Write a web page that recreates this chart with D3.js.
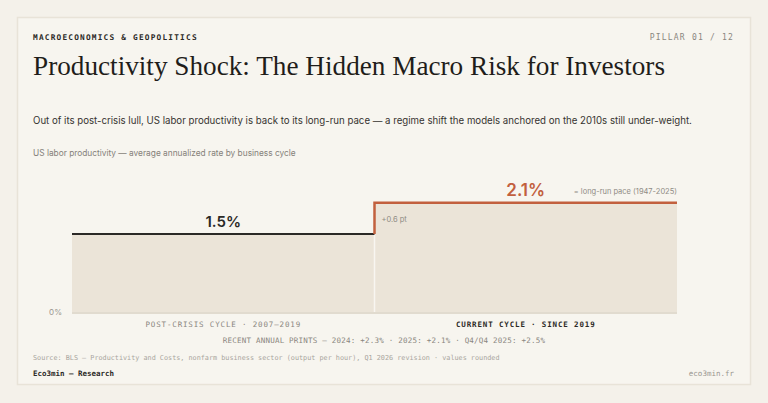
<!DOCTYPE html>
<html><head><meta charset="utf-8">
<script src="https://cdn.jsdelivr.net/npm/d3@7"></script>
<style>
html,body{margin:0;padding:0;background:#f4f1ea;}
svg{display:block;}
</style></head>
<body>
<script>
const categories = ["POST-CRISIS CYCLE · 2007–2019", "CURRENT CYCLE · SINCE 2019"];
const values = [1.5, 2.1];
const valueLabels = ["1.5%", "2.1%"];
const tickValues = [0];
const tickLabels = ["0%"];
const deltaLabel = "+0.6 pt";
const paceLabel = "= long-run pace (1947-2025)";
const recentPrints = "RECENT ANNUAL PRINTS — 2024: +2.3% · 2025: +2.1% · Q4/Q4 2025: +2.5%";

const W = 768, H = 403;
const mono = "'DejaVu Sans Mono', 'Liberation Mono', monospace";
const sans = "Inter, 'Noto Sans', sans-serif";
const serif = "'Liberation Serif', 'DejaVu Serif', serif";
const orange = "#c2603e", dark = "#2b2926", fill = "#ebe4d8";

const svg = d3.select("body").append("svg").attr("width", W).attr("height", H);
svg.append("rect").attr("width", W).attr("height", H).attr("fill", "#f4f1ea");
svg.append("rect").attr("x", 17.5).attr("y", 17.5).attr("width", 733).attr("height", 367)
  .attr("fill", "#f7f5ef").attr("stroke", "#e8e3d8").attr("stroke-width", 1.5);

function fit(sel, target) {
  const n = sel.node();
  const w = n.getComputedTextLength();
  const fs = parseFloat(sel.attr("font-size"));
  sel.attr("font-size", (fs * target / w).toFixed(2));
  return sel;
}

// header
fit(svg.append("text").attr("x", 33).attr("y", 40).attr("font-family", mono).attr("font-size", 8)
  .attr("font-weight", "bold").attr("letter-spacing", 1.2).attr("fill", "#2b2926")
  .text("MACROECONOMICS & GEOPOLITICS"), 164);
svg.append("text").attr("x", 734).attr("y", 40).attr("text-anchor", "end").attr("font-family", mono)
  .attr("font-size", 8).attr("letter-spacing", 1.2).attr("fill", "#8a8680").text("PILLAR 01 / 12");

svg.append("text").attr("x", 33).attr("y", 75).attr("font-family", serif).attr("font-size", 27)
  .attr("textLength", 632).attr("lengthAdjust", "spacingAndGlyphs")
  .attr("fill", "#1f1d1a").text("Productivity Shock: The Hidden Macro Risk for Investors");

fit(svg.append("text").attr("x", 33).attr("y", 124).attr("font-family", sans).attr("font-size", 11)
  .attr("fill", "#36332f")
  .text("Out of its post-crisis lull, US labor productivity is back to its long-run pace — a regime shift the models anchored on the 2010s still under-weight."), 660);

fit(svg.append("text").attr("x", 33).attr("y", 156).attr("font-family", sans).attr("font-size", 9)
  .attr("fill", "#85817a")
  .text("US labor productivity — average annualized rate by business cycle"), 263);

// chart
const x = d3.scaleBand().domain(categories).range([72, 677]).padding(0);
const y = d3.scaleLinear().domain([0, 3]).range([312, 156]);

const g = svg.append("g");
g.selectAll("rect.area").data(categories).join("rect").attr("class", "area")
  .attr("x", d => x(d)).attr("width", x.bandwidth())
  .attr("y", (d, i) => y(values[i])).attr("height", (d, i) => y(0) - y(values[i]))
  .attr("fill", fill);

// divider
g.append("line").attr("x1", x(categories[1])).attr("x2", x(categories[1]))
  .attr("y1", y(values[0])).attr("y2", y(0)).attr("stroke", "#f8f6f1").attr("stroke-width", 1.5);

// baseline axis
const axis = d3.axisLeft(y).tickValues(tickValues).tickSize(0).tickPadding(10)
  .tickFormat((d, i) => tickLabels[i]);
const ax = g.append("g").attr("transform", `translate(${x.range()[0]},0)`).call(axis);
ax.select(".domain").remove();
ax.selectAll("text").attr("font-family", sans).attr("font-size", 8).attr("fill", "#9a968f");
g.append("line").attr("x1", x.range()[0]).attr("x2", x.range()[1]).attr("y1", y(0) + 1).attr("y2", y(0) + 1)
  .attr("stroke", "#e1dbcf").attr("stroke-width", 2);

// lines
const line = d3.line().x(d => d[0]).y(d => y(d[1]));
const b = x(categories[1]);
g.append("path").attr("d", line([[x(categories[0]), values[0]], [b, values[0]]]))
  .attr("fill", "none").attr("stroke", dark).attr("stroke-width", 2);
g.append("path").attr("d", line([[b, values[0]], [b, values[1]], [x(categories[1]) + x.bandwidth(), values[1]]]))
  .attr("fill", "none").attr("stroke", orange).attr("stroke-width", 2.5).attr("stroke-linejoin", "miter");

// value labels
g.selectAll("text.val").data(categories).join("text").attr("class", "val")
  .attr("x", d => x(d) + x.bandwidth() / 2)
  .attr("y", (d, i) => y(values[i]) - 7)
  .attr("text-anchor", "middle").attr("font-family", sans).attr("font-weight", 600)
  .attr("font-size", (d, i) => i === 1 ? 17 : 15)
  .attr("fill", (d, i) => i === 1 ? orange : dark)
  .text((d, i) => valueLabels[i]);

g.append("text").attr("x", x.range()[1]).attr("y", y(values[1]) - 9).attr("text-anchor", "end")
  .attr("font-family", sans).attr("font-size", 7.5).attr("fill", "#8f8b84").text(paceLabel);
g.append("text").attr("x", b + 7).attr("y", y(values[0]) - 12)
  .attr("font-family", sans).attr("font-size", 7.5).attr("fill", "#8f8b84").text(deltaLabel);

// category labels
g.selectAll("text.cat").data(categories).join("text").attr("class", "cat")
  .attr("x", d => x(d) + x.bandwidth() / 2).attr("y", 327)
  .attr("text-anchor", "middle").attr("font-family", mono).attr("font-size", 7.5)
  .attr("letter-spacing", 0.85).attr("font-weight", (d, i) => i === 1 ? "bold" : "normal")
  .attr("fill", (d, i) => i === 1 ? "#2b2926" : "#8a8680").text(d => d);

fit(g.append("text").attr("x", 384).attr("y", 343).attr("text-anchor", "middle").attr("font-family", mono)
  .attr("font-size", 8).attr("letter-spacing", 0.2).attr("fill", "#8a8680").text(recentPrints), 322);

// footer
fit(svg.append("text").attr("x", 33).attr("y", 360).attr("font-family", mono).attr("font-size", 7)
  .attr("fill", "#a9a59e")
  .text("Source: BLS — Productivity and Costs, nonfarm business sector (output per hour), Q1 2026 revision · values rounded"), 467);
fit(svg.append("text").attr("x", 33).attr("y", 376).attr("font-family", mono).attr("font-size", 7.5)
  .attr("font-weight", "bold").attr("fill", "#2b2926").text("Eco3min — Research"), 81);
svg.append("text").attr("x", 734).attr("y", 376).attr("text-anchor", "end").attr("font-family", mono)
  .attr("font-size", 7.5).attr("fill", "#9a968f").text("eco3min.fr");
</script>
</body></html>
